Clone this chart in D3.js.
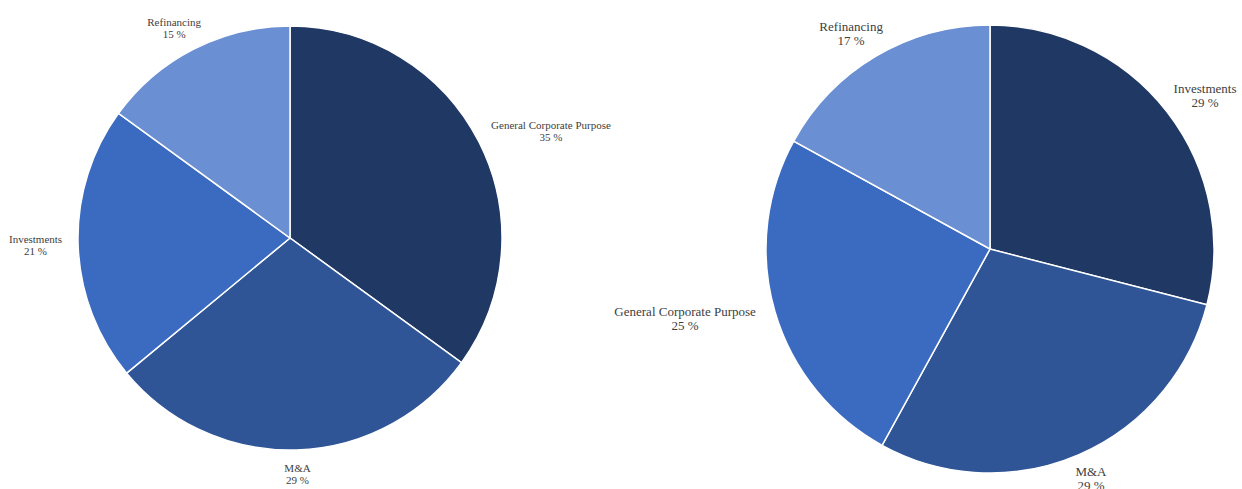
<!DOCTYPE html>
<html>
<head>
<meta charset="utf-8">
<script src="https://cdn.jsdelivr.net/npm/d3@7"></script>
<style>
  html, body { margin: 0; padding: 0; background: #ffffff; }
  svg { display: block; }
</style>
</head>
<body>
<svg id="chart" width="1242" height="489"></svg>
<script>
// Use of proceeds, two breakdowns (shares in %)
const leftCategories  = ["General Corporate Purpose", "M&A", "Investments", "Refinancing"];
const leftValues      = [35, 29, 21, 15];
const rightCategories = ["Investments", "M&A", "General Corporate Purpose", "Refinancing"];
const rightValues     = [29, 29, 25, 17];

const sliceColors = ["#203864", "#2f5597", "#3b6bc0", "#6b8fd3"];

const svg = d3.select("#chart");

function drawPie(cfg) {
  const data = cfg.categories.map((c, i) => ({ label: c, value: cfg.values[i] }));
  const pie = d3.pie().sort(null).value(d => d.value);
  const arcs = pie(data);
  const arc = d3.arc().innerRadius(0).outerRadius(cfg.r);

  const color = d3.scaleOrdinal().domain(cfg.categories).range(sliceColors);

  const g = svg.append("g").attr("transform", `translate(${cfg.cx},${cfg.cy})`);

  g.selectAll("path.slice")
    .data(arcs)
    .join("path")
    .attr("class", "slice")
    .attr("d", arc)
    .attr("fill", d => color(d.data.label))
    .attr("stroke", "#ffffff")
    .attr("stroke-width", 1.5);

  // Outside-end labels: anchor just beyond the rim, box pushed outward
  const labels = g.selectAll("text.lbl")
    .data(arcs)
    .join("text")
    .attr("class", "lbl")
    .attr("font-family", "'Liberation Serif', 'Times New Roman', serif")
    .attr("font-size", cfg.fontSize)
    .attr("fill", "#404040")
    .attr("text-anchor", "middle");

  labels.each(function(d) {
    const t = d3.select(this);
    t.append("tspan").attr("x", 0).attr("dy", 0).text(d.data.label);
    t.append("tspan").attr("x", 0).attr("dy", cfg.lineH).text(d.data.value + " %");
    const w = this.getBBox().width;
    const a = (d.startAngle + d.endAngle) / 2;
    const s = Math.sin(a), c = Math.cos(a);
    const rr = cfg.r + cfg.gap;
    const ax = rr * s, ay = -rr * c;
    const cx = ax + s * w / 2 * cfg.k;
    const cy = ay - c * cfg.lineH;
    // two lines: vertical centre sits between the baselines
    t.attr("transform", `translate(${cx},${cy - cfg.lineH / 2 + cfg.fontSize * 0.35})`);
  });
}

drawPie({
  categories: leftCategories, values: leftValues,
  cx: 290, cy: 238, r: 212, fontSize: 11, lineH: 12, gap: 12, k: 1.15
});

drawPie({
  categories: rightCategories, values: rightValues,
  cx: 990, cy: 249, r: 224, fontSize: 13, lineH: 14, gap: 12, k: 1.15
});
</script>
</body>
</html>
